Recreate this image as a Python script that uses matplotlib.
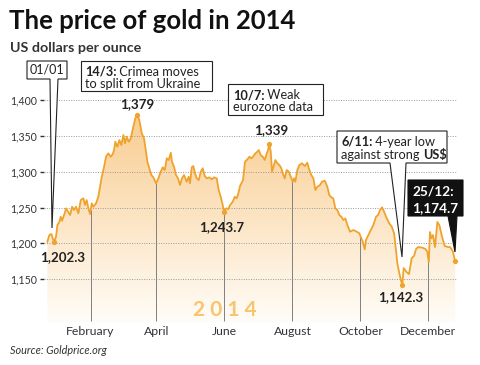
# The price of gold in 2014 - recreated chart
import numpy as np
import matplotlib
matplotlib.use("Agg")
import matplotlib.pyplot as plt
from matplotlib.patches import Polygon

plt.rcParams['font.family'] = ['Lato', 'DejaVu Sans']

# Data: days counted from 1 January 2014, price in US$ per ounce
days = [-7.8, -6.0, -4.2, -3.0, -1.8, 0.0, 1.2, 3.0, 4.2, 5.4,
        7.2, 9.0, 10.8, 12.6, 14.4, 16.1, 17.9, 20.0, 22.2, 24.5,
        26.0, 27.5, 29.0, 30.5, 32.0, 33.5, 35.9, 37.9, 41.0, 43.1,
        44.8, 46.9, 49.1, 50.9, 52.0, 53.2, 55.0, 56.8, 58.6, 60.4,
        61.9, 63.4, 65.2, 67.0, 69.3, 71.1, 72.9, 74.7, 76.9, 78.9,
        80.7, 81.9, 83.7, 85.5, 87.3, 89.7, 91.8, 93.9, 95.7, 97.5,
        99.3, 101.1, 102.9, 104.0, 105.8, 107.6, 109.4, 111.2, 113.0, 114.8,
        117.2, 119.0, 120.2, 121.7, 123.1, 124.7, 126.2, 128.0, 129.8, 131.6,
        133.4, 135.2, 137.5, 139.6, 141.7, 144.1, 145.9, 147.7, 149.5, 150.7,
        152.5, 154.3, 156.1, 158.5, 160.3, 162.1, 163.9, 165.0, 167.7, 169.5,
        171.6, 173.4, 175.2, 177.0, 178.8, 180.5, 181.8, 183.6, 185.4, 187.2,
        189.0, 190.1, 191.3, 192.6, 193.7, 195.5, 196.7, 198.5, 200.3, 202.1,
        203.3, 205.1, 206.9, 208.7, 210.5, 212.3, 213.5, 214.6, 216.4, 218.2,
        220.6, 223.1, 225.4, 227.2, 229.0, 230.8, 232.6, 234.4, 236.8, 238.6,
        241.0, 243.3, 245.1, 246.9, 248.7, 250.5, 252.3, 254.1, 255.9, 257.7,
        259.5, 261.3, 263.7, 266.7, 269.7, 272.0, 273.3, 275.1, 276.9, 278.0,
        280.1, 282.3, 284.6, 287.0, 288.8, 290.6, 292.4, 294.2, 296.6, 298.9,
        301.1, 303.2, 304.9, 306.1, 307.9, 309.7, 310.6, 311.8, 314.4, 316.6,
        319.0, 321.1, 322.9, 324.7, 328.3, 331.4, 333.0, 334.3, 335.4, 336.6,
        338.1, 339.9, 342.0, 343.8, 346.2, 348.6, 351.6, 353.4, 355.8, 358.0]

prices = [1202.2, 1211.6, 1213.0, 1207.0, 1202.3, 1209.2, 1225.5, 1230.1, 1237.1, 1231.5,
          1239.5, 1248.8, 1244.1, 1239.5, 1251.1, 1246.5, 1251.1, 1241.9, 1260.4, 1262.8,
          1253.5, 1260.4, 1248.8, 1240.9, 1255.8, 1251.1, 1255.8, 1265.0, 1292.9, 1306.9,
          1320.9, 1325.6, 1320.9, 1324.6, 1330.2, 1341.8, 1334.8, 1344.2, 1337.2, 1351.2,
          1339.6, 1348.8, 1341.8, 1346.5, 1362.7, 1374.5, 1379.0, 1372.1, 1353.5, 1346.5,
          1327.8, 1313.9, 1304.7, 1295.3, 1292.1, 1283.7, 1290.7, 1299.9, 1306.1, 1302.3,
          1318.6, 1316.3, 1326.4, 1313.9, 1306.9, 1295.3, 1290.7, 1281.4, 1290.7, 1295.3,
          1286.0, 1292.9, 1283.7, 1306.1, 1307.9, 1297.7, 1290.7, 1288.3, 1300.0, 1304.7,
          1293.9, 1290.7, 1292.1, 1289.3, 1292.1, 1290.7, 1274.4, 1265.0, 1253.5, 1243.7,
          1248.8, 1247.6, 1253.5, 1258.1, 1265.0, 1262.8, 1272.0, 1280.0, 1288.3, 1313.9,
          1317.2, 1320.9, 1318.6, 1321.8, 1325.6, 1327.8, 1330.2, 1323.2, 1320.9, 1316.3,
          1325.6, 1330.2, 1339.0, 1327.8, 1300.0, 1309.3, 1316.3, 1311.7, 1309.3, 1304.7,
          1297.7, 1290.7, 1302.3, 1300.0, 1292.9, 1286.0, 1290.7, 1286.0, 1302.3, 1309.3,
          1311.7, 1307.9, 1312.5, 1302.3, 1295.3, 1290.7, 1274.4, 1279.0, 1281.4, 1286.0,
          1287.4, 1279.0, 1267.4, 1264.2, 1262.8, 1248.8, 1246.5, 1239.5, 1237.1, 1232.5,
          1234.8, 1225.5, 1216.2, 1218.6, 1216.2, 1214.0, 1209.2, 1202.2, 1191.6, 1204.6,
          1211.6, 1218.6, 1225.5, 1237.1, 1239.5, 1246.5, 1250.2, 1244.1, 1234.9, 1227.9,
          1223.2, 1214.0, 1190.6, 1172.1, 1158.1, 1146.4, 1142.3, 1165.5, 1159.9, 1157.1,
          1179.5, 1182.3, 1192.0, 1194.8, 1194.1, 1192.0, 1187.9, 1173.9, 1215.8, 1207.0,
          1211.6, 1194.8, 1229.7, 1225.5, 1209.2, 1196.2, 1194.8, 1194.8, 1189.3, 1174.7]

highlight_idx = [4, 46, 89, 112, 176, 199]
month_days = [31, 90, 151, 212, 273, 334]
month_labels = ['February', 'April', 'June', 'August', 'October', 'December']
yticks = [1150, 1200, 1250, 1300, 1350, 1400]

GOLD = '#f0a32c'
INK = '#222222'
W, H = 480, 365

fig = plt.figure(figsize=(W / 100, H / 100), dpi=100)
fig.patch.set_facecolor('white')


def px(x, y):
    # pixel position (from top left) -> figure fraction
    return (x / W, 1 - y / H)


ax = fig.add_axes([44 / W, 1 - 322 / H, (465 - 44) / W, (322 - 90) / H])
ax.set_xlim(-10.8, 366.8)
ax.set_ylim(1090.2, 1414)
for s in ax.spines.values():
    s.set_visible(False)
ax.patch.set_alpha(0)

# gradient fill under the line
poly = ax.fill_between(days, prices, 1090.2, facecolor='none', edgecolor='none')
grad = np.linspace(0, 1, 256)[:, None]
top = np.array([0.975, 0.79, 0.54])
bot = np.array([1.0, 0.99, 0.97])
rgb = top[None, None, :] * (1 - grad[..., None]) + bot[None, None, :] * grad[..., None]
img = ax.imshow(rgb, extent=[-10.8, 366.8, 1090.2, 1400], aspect='auto',
                origin='upper', zorder=1)
img.set_clip_path(poly.get_paths()[0], transform=ax.transData)

# dotted gridlines
ax.hlines(yticks, -10.8, 359.7, colors='#9a9a9a', linestyles=(0, (1, 1.5)),
          linewidth=0.7, zorder=2)

# month lines from the curve down
ax.vlines(month_days, 1092, np.interp(month_days, days, prices),
          colors='#808080', linewidth=0.7, zorder=2)

ax.text(151, 1107, '2 0 1 4', fontsize=15, fontweight='bold', color='#f8c46c',
        ha='center', va='center', zorder=1.5)

ax.plot(days, prices, color=GOLD, lw=1.3, zorder=3)
ax.scatter([days[i] for i in highlight_idx], [prices[i] for i in highlight_idx],
           s=14, color=GOLD, zorder=4, linewidths=0)

ax.set_yticks(yticks)
ax.set_yticklabels([f'{v:,}' for v in yticks])
ax.tick_params(axis='y', length=3, width=1, color='#333', pad=2,
               labelsize=7.6, labelcolor='#333')
ax.set_xticks(month_days)
ax.set_xticklabels(month_labels)
ax.tick_params(axis='x', length=0, pad=3, labelsize=8.8, labelcolor='#333')

# titles
fig.text(*px(9, 29), 'The price of gold in 2014', fontsize=18.5, fontweight='bold',
         color='#111', va='baseline', ha='left')
fig.text(*px(10, 52), 'US dollars per ounce', fontsize=10.3, fontweight='bold',
         color='#333', va='baseline', ha='left')
fig.text(*px(10, 354), 'Source: Goldprice.org', fontsize=7.8, style='italic',
         color='#333', va='baseline', ha='left')

# value labels
value_labels = [('1,202.3', 63, 257), ('1,379', 137, 104), ('1,243.7', 222, 227),
                ('1,339', 271, 130), ('1,142.3', 401, 297)]
for s, x, y in value_labels:
    fig.text(*px(x, y), s, fontsize=9.6, fontweight='bold', color=INK,
             ha='center', va='center')


def callout(points, face='white', edge=INK):
    fig.add_artist(Polygon([px(x, y) for x, y in points], closed=True,
                           transform=fig.transFigure, facecolor=face,
                           edgecolor=edge, lw=0.8, zorder=2))


fig.canvas.draw()
renderer = fig.canvas.get_renderer()


def mixed(x, y, parts, size=9.2, color=INK):
    # parts: list of (text, weight), drawn one after another on a baseline
    for s, w in parts:
        t = fig.text(*px(x, y), s, fontsize=size, fontweight=w, color=color,
                     va='baseline', ha='left', zorder=3)
        x = t.get_window_extent(renderer).x1


callout([(27, 61), (67, 61), (67, 79), (58, 79), (52, 228), (50, 79), (27, 79)])
fig.text(*px(47, 70), '01/01', fontsize=9, color=INK, ha='center', va='center', zorder=3)

callout([(81, 61), (212, 61), (212, 91), (81, 91)])
mixed(85, 76, [('14/3:', 'bold'), (' Crimea moves', 'normal')])
mixed(85, 88, [('to split from Ukraine', 'normal')])

callout([(228, 84), (323, 84), (323, 115), (228, 115)])
mixed(233, 99, [('10/7:', 'bold'), (' Weak', 'normal')])
mixed(233, 111, [('eurozone data', 'normal')])

callout([(337, 131), (447, 131), (447, 163), (406, 163), (402, 257), (390, 163), (337, 163)])
mixed(341, 146, [('6/11:', 'bold'), (' 4-year low', 'normal')])
mixed(341, 159, [('against strong ', 'normal'), ('US$', 'bold')])

callout([(408, 180), (463, 180), (463, 216), (457, 216), (455, 252), (448, 216), (408, 216)],
        face='#111', edge='#111')
mixed(412, 196, [('25/12:', 'bold')], size=9.8, color='white')
mixed(412, 212, [('1,174.7', 'bold')], size=9.8, color='white')

fig.savefig('out.png', dpi=100, facecolor='white')
